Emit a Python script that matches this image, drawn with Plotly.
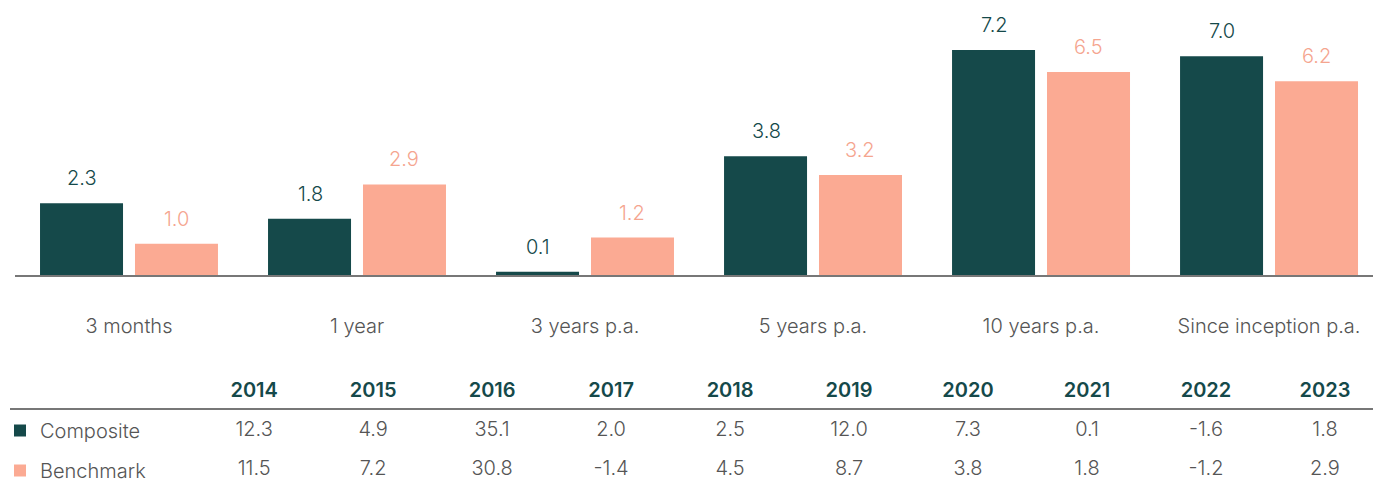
import plotly.graph_objects as go

# ---- data ----
categories = ["3 months", "1 year", "3 years p.a.", "5 years p.a.", "10 years p.a.", "Since inception p.a."]
composite = [2.3, 1.8, 0.1, 3.8, 7.2, 7.0]
benchmark = [1.0, 2.9, 1.2, 3.2, 6.5, 6.2]

years = [2014, 2015, 2016, 2017, 2018, 2019, 2020, 2021, 2022, 2023]
composite_annual = [12.3, 4.9, 35.1, 2.0, 2.5, 12.0, 7.3, 0.1, -1.6, 1.8]
benchmark_annual = [11.5, 7.2, 30.8, -1.4, 4.5, 8.7, 3.8, 1.8, -1.2, 2.9]

# ---- style ----
TEAL = "#15494A"
SALMON = "#FBAA93"
SALMON_TXT = "#F5A58F"
GREY_TXT = "#555555"
LINE = "#777777"
FONT = "Inter"
FS = 20
WT = 300

W, H = 1373, 487

def px_x(p):
    return p / W

def px_y(p):
    return (H - p) / H

fig = go.Figure()

fig.add_trace(go.Bar(
    x=categories, y=composite, name="Composite", legendgroup="c",
    marker=dict(color=TEAL, line=dict(width=0)), xaxis="x", yaxis="y",
))
fig.add_trace(go.Bar(
    x=categories, y=benchmark, name="Benchmark", legendgroup="b",
    marker=dict(color=SALMON, line=dict(width=0)), xaxis="x", yaxis="y",
))

# value labels above bars
annotations = []
for c, v1, v2 in zip(categories, composite, benchmark):
    annotations.append(dict(x=c, y=v1, xref="x", yref="y", text=f"{v1:.1f}",
                            showarrow=False, yanchor="bottom", xshift=-47, yshift=11,
                            font=dict(family=FONT, size=FS, color=TEAL, weight=WT)))
    annotations.append(dict(x=c, y=v2, xref="x", yref="y", text=f"{v2:.1f}",
                            showarrow=False, yanchor="bottom", xshift=47, yshift=11,
                            font=dict(family=FONT, size=FS, color=SALMON_TXT, weight=WT)))

# table values
fig.add_trace(go.Scatter(
    x=years, y=["Composite"] * len(years), mode="text",
    text=[f"{v:.1f}" for v in composite_annual],
    textfont=dict(family=FONT, size=FS, color=GREY_TXT, weight=WT),
    xaxis="x2", yaxis="y2", showlegend=False, hoverinfo="skip",
))
fig.add_trace(go.Scatter(
    x=years, y=["Benchmark"] * len(years), mode="text",
    text=[f"{v:.1f}" for v in benchmark_annual],
    textfont=dict(family=FONT, size=FS, color=GREY_TXT, weight=WT),
    xaxis="x2", yaxis="y2", showlegend=False, hoverinfo="skip",
))

# table x mapping: 2014 -> 254px, step 118.9px, domain from 10px
step = 118.9
x2_left = 10
x2_lo = years[0] - (254 - x2_left) / step
x2_hi = years[-1] + (W - 1325) / step

fig.update_layout(
    width=W, height=H,
    margin=dict(l=0, r=0, t=0, b=0, autoexpand=False),
    paper_bgcolor="white", plot_bgcolor="white",
    barmode="group", bargap=0.167, bargroupgap=0.126,
    font=dict(family=FONT, size=FS, color=GREY_TXT, weight=WT),
    annotations=annotations,
    xaxis=dict(
        domain=[px_x(15), 1], range=[-0.5, 5.456], type="category",
        showline=True, linecolor=LINE, linewidth=2, showgrid=False,
        ticks="", ticklabelstandoff=32, automargin=False,
        tickfont=dict(family=FONT, size=FS, color=GREY_TXT, weight=WT),
        anchor="y", fixedrange=True,
    ),
    yaxis=dict(
        domain=[px_y(275), px_y(25)], range=[0, 8], automargin=False,
        showgrid=False, zeroline=False, showline=False, showticklabels=False,
        anchor="x",
    ),
    xaxis2=dict(
        domain=[px_x(x2_left), 1], range=[x2_lo, x2_hi], automargin=False,
        side="top", showline=True, linecolor=LINE, linewidth=2,
        showgrid=False, zeroline=False, ticks="",
        tickvals=years, ticktext=[str(y) for y in years],
        tickfont=dict(family=FONT, size=FS, color=TEAL, weight=600),
        ticklabelstandoff=3,
        anchor="y2",
    ),
    yaxis2=dict(
        domain=[0, px_y(409.5)], type="category", automargin=False,
        categoryorder="array", categoryarray=["Composite", "Benchmark"],
        range=[1.45, -0.55],
        showgrid=False, zeroline=False, showline=False, showticklabels=False,
        anchor="x2",
    ),
    legend=dict(
        x=0, xanchor="left", y=px_y(411), yanchor="top",
        orientation="v", tracegroupgap=11,
        font=dict(family=FONT, size=FS, color=GREY_TXT, weight=WT),
        bgcolor="rgba(0,0,0,0)",
    ),
    showlegend=True,
)

fig.write_html("out.html")
